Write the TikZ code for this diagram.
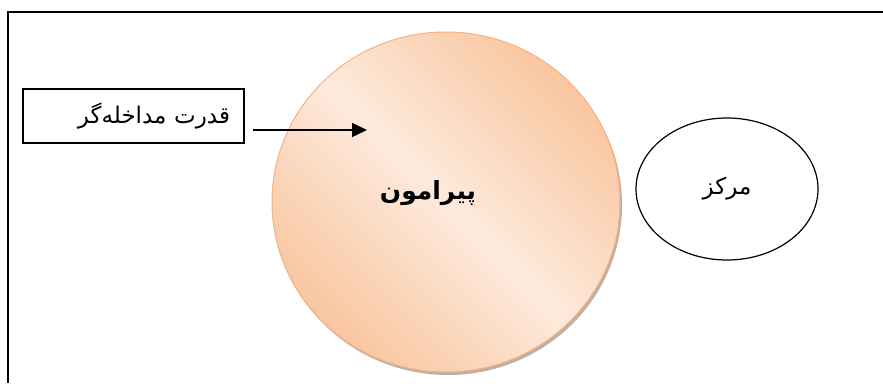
\documentclass[tikz,border=0pt]{standalone}
\usepackage{fontspec}
\newfontfamily\farsi[Script=Arabic]{DejaVu Sans}
\TeXXeTstate=1
\usetikzlibrary{positioning,shapes.geometric,arrows.meta,shadows}
\definecolor{periedge}{RGB}{246,178,130}
\definecolor{peridark}{RGB}{249,198,160}
\definecolor{perilight}{RGB}{253,234,220}
\definecolor{perishadow}{RGB}{140,110,90}
\tikzset{
  powerbox/.style={draw,line width=1.8pt,minimum width=221pt,minimum height=54pt,
    text width=193pt,align=right,inner xsep=14pt,font=\farsi\fontsize{23}{26}\selectfont},
  peribody/.style={ellipse,draw=periedge,line width=1pt,minimum width=348pt,minimum height=340pt,
    left color=peridark,right color=peridark,middle color=perilight,shading angle=-45,
    drop shadow={opacity=0.55,shadow xshift=2pt,shadow yshift=-3pt,fill=perishadow}},
  corebody/.style={ellipse,draw,line width=1.2pt,minimum width=182pt,minimum height=142pt,
    font=\farsi\fontsize{23}{26}\selectfont},
  pointer/.style={line width=1.4pt,-{Triangle[length=15pt,width=14pt]}}
}
\begin{document}
\begin{tikzpicture}[x=1pt,y=-1pt]
  \useasboundingbox (0,0) rectangle (883,383);
  % outer frame, cut at right and bottom
  \draw[line width=1.8pt] (8,383) |- (883,12);
  % periphery and centre
  \node[peribody] (periphery) at (446,202) {};
  \node[font=\farsi\bfseries\fontsize{25}{28}\selectfont] (periname)
    at ([xshift=-18pt,yshift=9pt]periphery.center) {\beginR پیرامون\endR};
  \node[corebody] (core) at (727,189) {\beginR مرکز\endR};
  % intervening power
  \node[powerbox] (power) at (133.5,116) {\beginR قدرت مداخله^^^^200cگر\endR};
  \coordinate (tail) at (253,130);
  \coordinate (tip) at (367,130);
  \draw[pointer] (tail) -- (tip);
\end{tikzpicture}
\end{document}
